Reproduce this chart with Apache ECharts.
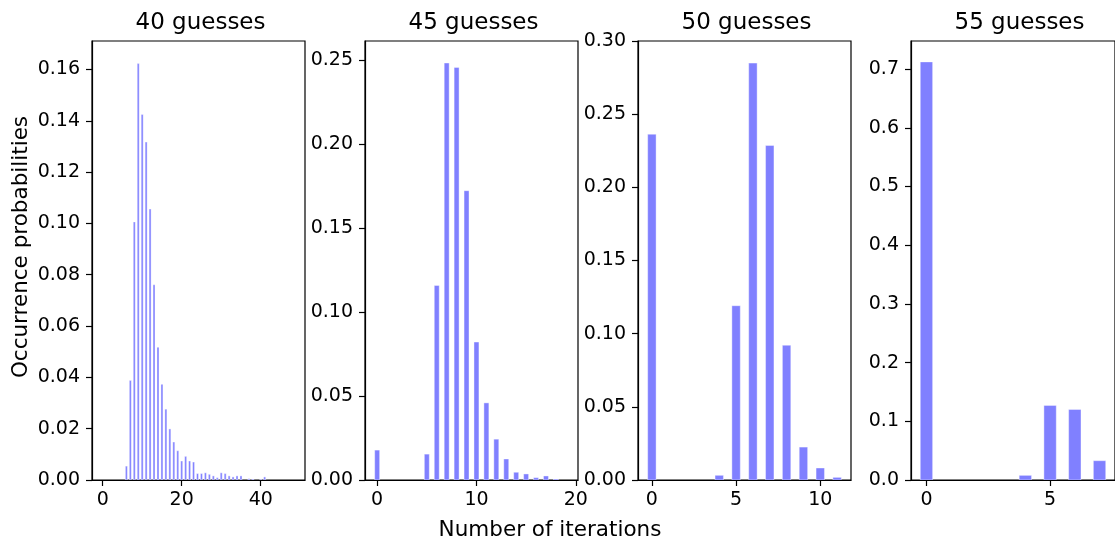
<!DOCTYPE html>
<html>
<head>
<meta charset="utf-8">
<script src="https://cdn.jsdelivr.net/npm/echarts@6/dist/echarts.min.js"></script>
<style>html,body{margin:0;padding:0;background:#fff}#c{width:1115px;height:540px}</style>
</head>
<body>
<div id="c"></div>
<script>
// ---- data ----
const titles = ['40 guesses', '45 guesses', '50 guesses', '55 guesses'];
const yLabel = 'Occurrence probabilities';
const xLabel = 'Number of iterations';

const iter40 = [6,7,8,9,10,11,12,13,14,15,16,17,18,19,20,21,22,23,24,25,26,27,28,29,30,31,32,33,34,35,37,38,40,41];
const prob40 = [0.0054,0.0388,0.1006,0.1623,0.1425,0.1317,0.1056,0.0761,0.0517,0.0373,0.0276,0.0199,0.0148,0.0114,0.0074,0.0092,0.0074,0.0070,0.0025,0.0025,0.0028,0.0022,0.0016,0.0009,0.0028,0.0025,0.0016,0.0012,0.0016,0.0016,0.0005,0.0004,0.0003,0.0012];

const iter45 = [0,5,6,7,8,9,10,11,12,13,14,15,16,17,18];
const prob45 = [0.0178,0.0154,0.1158,0.2482,0.2456,0.1722,0.0821,0.0459,0.0243,0.0125,0.0046,0.0036,0.0014,0.0024,0.0006];

const iter50 = [0,4,5,6,7,8,9,10,11];
const prob50 = [0.2363,0.0032,0.1191,0.2849,0.2286,0.0921,0.0225,0.0082,0.0018];

const iter55 = [0,4,5,6,7];
const prob55 = [0.7124,0.0079,0.1271,0.1202,0.0329];

const xTicks = [[0,20,40],[0,10,20],[0,5,10],[0,5]];
const yTicks = [
  [0,0.02,0.04,0.06,0.08,0.10,0.12,0.14,0.16],
  [0,0.05,0.10,0.15,0.20,0.25],
  [0,0.05,0.10,0.15,0.20,0.25,0.30],
  [0,0.1,0.2,0.3,0.4,0.5,0.6,0.7]
];
const yDecimals = [2,2,2,1];

// ---- layout (styles) ----
const xs = [iter40, iter45, iter50, iter55];
const ys = [prob40, prob45, prob50, prob55];
const xRange = [[-2.7,51.2],[-1.225,20.225],[-0.825,11.825],[-0.625,7.625]];
const yMax = [0.1711, 0.2613, 0.3, 0.748];
const lefts = [92, 365, 638, 911];
const W = 213, TOP = 41, BOTTOM_Y = 480;
const FONT = 'DejaVu Sans';
const BAR_W = 0.5;

const grid = [], xAxis = [], yAxis = [], series = [], title = [];
for (let i = 0; i < 4; i++) {
  grid.push({left: lefts[i], top: TOP, width: W, height: BOTTOM_Y - TOP,
    show: true, borderColor: '#000', borderWidth: 1.2, backgroundColor: 'transparent', containLabel: false});
  xAxis.push({type: 'value', gridIndex: i, min: xRange[i][0], max: xRange[i][1],
    splitLine: {show: false},
    axisLine: {show: true, onZero: false, lineStyle: {color: '#000', width: 1.2}},
    axisTick: {show: true, length: 6, lineStyle: {color: '#000', width: 1.2}, customValues: xTicks[i]},
    axisLabel: {show: true, margin: 11, fontFamily: FONT, fontSize: 19, color: '#000', customValues: xTicks[i],
      formatter: v => String(Math.round(v))}
  });
  const d = yDecimals[i];
  yAxis.push({type: 'value', gridIndex: i, min: 0, max: yMax[i],
    splitLine: {show: false},
    axisLine: {show: true, onZero: false, lineStyle: {color: '#000', width: 1.2}},
    axisTick: {show: true, length: 6, lineStyle: {color: '#000', width: 1.2}, customValues: yTicks[i]},
    axisLabel: {show: true, margin: 12, fontFamily: FONT, fontSize: 19, color: '#000', customValues: yTicks[i],
      formatter: v => v.toFixed(d)}
  });
  const data = xs[i].map((x, k) => [x, ys[i][k]]);
  series.push({type: 'custom', xAxisIndex: i, yAxisIndex: i, clip: true, data: data,
    renderItem: (params, api) => {
      const x = api.value(0), y = api.value(1);
      const p0 = api.coord([x - BAR_W / 2, y]);
      const p1 = api.coord([x + BAR_W / 2, 0]);
      return {type: 'rect', shape: {x: p0[0], y: p0[1], width: p1[0] - p0[0], height: p1[1] - p0[1]},
        style: {fill: '#8080ff', stroke: '#ffffff', lineWidth: 0.4}};
    }
  });
  title.push({text: titles[i], left: lefts[i] + W / 2 - 3, top: 7, textAlign: 'center',
    textStyle: {fontFamily: FONT, fontSize: 23, fontWeight: 'normal', color: '#000'}});
}

const chart = echarts.init(document.getElementById('c'), null, {renderer: 'canvas'});
chart.setOption({
  animation: false,
  backgroundColor: '#fff',
  title: title,
  grid: grid, xAxis: xAxis, yAxis: yAxis, series: series,
  graphic: [
    {type: 'text', x: 550, y: 530,
      style: {text: xLabel, fontFamily: FONT, fontSize: 21.5, fill: '#000', align: 'center', verticalAlign: 'middle'}},
    {type: 'text', x: 21, y: 247, rotation: Math.PI / 2,
      style: {text: yLabel, fontFamily: FONT, fontSize: 21.5, fill: '#000', align: 'center', verticalAlign: 'middle'}}
  ]
});
</script>
</body>
</html>
